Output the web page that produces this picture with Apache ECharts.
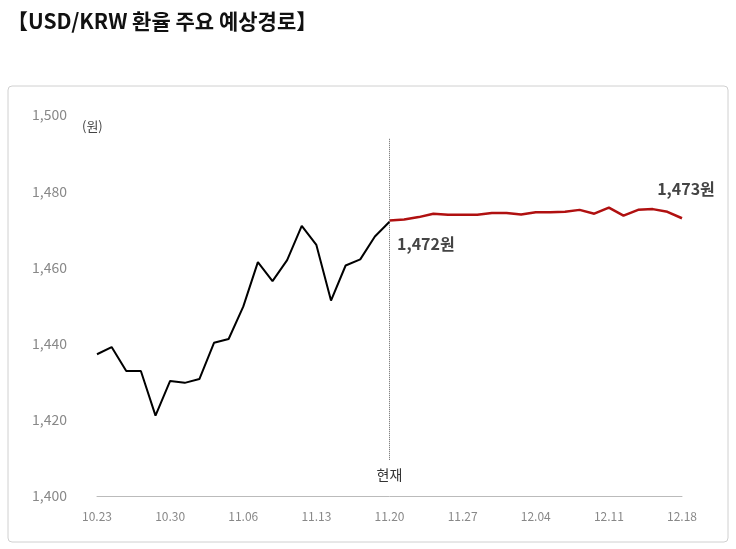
<!DOCTYPE html>
<html><head><meta charset="utf-8">
<script src="https://cdn.jsdelivr.net/npm/echarts@6/dist/echarts.min.js"></script>
<style>html,body{margin:0;padding:0;background:#fff}#c{width:736px;height:549px}</style>
</head><body><div id="c"></div>
<script>
const dates = ['10.23','10.24','10.27','10.28','10.29','10.30','10.31','11.03','11.04','11.05','11.06','11.07','11.10','11.11','11.12','11.13','11.14','11.17','11.18','11.19','11.20','11.21','11.24','11.25','11.26','11.27','11.28','12.01','12.02','12.03','12.04','12.05','12.08','12.09','12.10','12.11','12.12','12.15','12.16','12.17','12.18'];
const actual = [1437.2,1439.1,1432.8,1432.8,1421.1,1430.2,1429.7,1430.7,1440.2,1441.2,1449.7,1461.4,1456.4,1461.9,1470.9,1465.9,1451.3,1460.5,1462.1,1468.1,1472.0];
const forecast = [1472.3,1472.6,1473.2,1474.1,1473.8,1473.8,1473.8,1474.3,1474.3,1473.9,1474.5,1474.5,1474.6,1475.1,1474.1,1475.7,1473.6,1475.1,1475.3,1474.6,1472.9];
const yTicks = {min:1400,max:1500,interval:20};
const actualData = actual.concat(new Array(dates.length-actual.length).fill(null));
const fcData = new Array(actual.length-1).fill(null).concat(forecast);
const lblStyle = {show:true,fontSize:16,fontWeight:'bold',color:'#444',fontFamily:'Noto Sans CJK KR'};
const chart = echarts.init(document.getElementById('c'));
chart.setOption({
  animation:false,
  title:{text:'【USD/KRW 환율 주요 예상경로】',left:2,top:6,textStyle:{fontSize:21,fontWeight:'bold',color:'#111',fontFamily:'Noto Sans CJK KR'}},
  graphic:[
    {type:'rect',shape:{x:8,y:86,width:720,height:456,r:4},style:{fill:'none',stroke:'#d0d0d0',lineWidth:1}},
    {type:'text',left:82,top:120,style:{text:'(원)',fontSize:13,fill:'#444',fontFamily:'Noto Sans CJK KR'}}
  ],
  grid:{left:97,right:54,top:115,bottom:53},
  xAxis:{type:'category',data:dates,boundaryGap:false,
    axisLine:{lineStyle:{color:'#bbb'}},axisTick:{show:false},
    axisLabel:{interval:4,color:'#888',fontSize:12,margin:14,fontFamily:'Noto Sans CJK KR'}},
  yAxis:{type:'value',min:yTicks.min,max:yTicks.max,interval:yTicks.interval,
    splitLine:{show:false},axisLine:{show:false},axisTick:{show:false},
    axisLabel:{color:'#888',fontSize:14,margin:30,formatter:v=>v.toLocaleString('en-US'),fontFamily:'Noto Sans CJK KR'}},
  series:[
    {type:'line',data:actualData,symbol:'none',lineStyle:{color:'#000',width:2},
     markLine:{silent:true,symbol:'none',lineStyle:{color:'#666',type:'dotted',width:1},
       label:{show:true,position:'start',formatter:'현재',color:'#333',fontSize:14,fontFamily:'Noto Sans CJK KR',distance:8},
       data:[[{coord:['11.20',1409.5]},{coord:['11.20',1494]}]]}},
    {type:'line',data:fcData,symbol:'none',lineStyle:{color:'#b01010',width:2.5},
     markPoint:{silent:true,symbol:'circle',symbolSize:1,itemStyle:{color:'rgba(0,0,0,0)'},
       data:[
         {coord:[dates[actual.length-1],actual[actual.length-1]],label:Object.assign({},lblStyle,{formatter:'1,472원',position:'right',offset:[2,22]})},
         {coord:[dates[dates.length-1],forecast[forecast.length-1]],label:Object.assign({},lblStyle,{formatter:'1,473원',position:'top',offset:[4,-16]})}
       ]}}
  ]
});
</script></body></html>
